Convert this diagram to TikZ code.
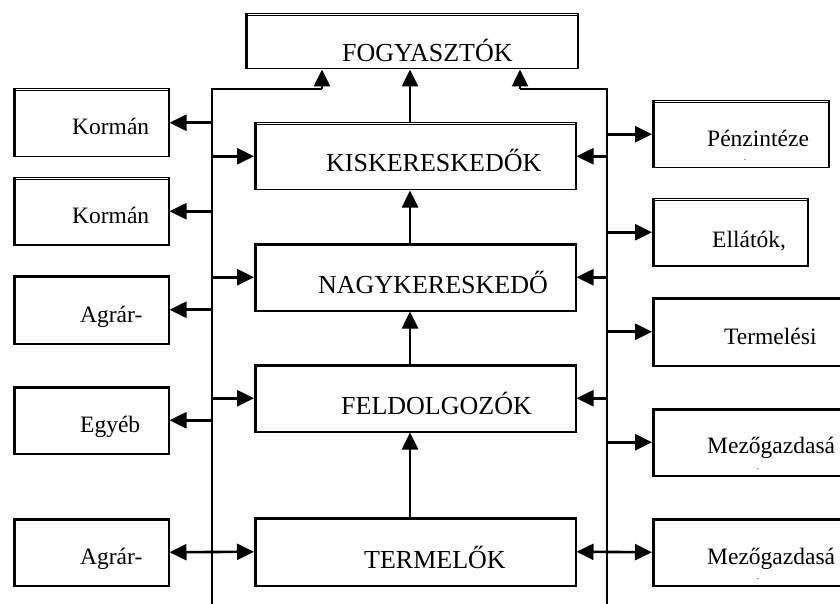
\documentclass[tikz,border=0pt]{standalone}
\usepackage{fontspec}
\setmainfont{Liberation Serif}
\usetikzlibrary{arrows.meta,calc}
\begin{document}
\begin{tikzpicture}[x=1pt,y=-1pt,
  box/.style={draw, line width=1.5pt, inner sep=0pt, anchor=north west},
  clab/.style={anchor=base west, inner sep=0pt, font=\fontsize{26}{30}\selectfont},
  slab/.style={anchor=base west, inner sep=0pt, font=\fontsize{23.5}{28}\selectfont},
  dotlab/.style={anchor=base, inner sep=0pt, font=\fontsize{9}{10}\selectfont},
  bus/.style={line width=2.8pt},
  tip/.style={-{Triangle[length=17pt,width=16pt]}},
  arr/.style={line width=2.6pt, tip},
  arrtwo/.style={line width=2.6pt, {Triangle[length=17pt,width=16pt]}-{Triangle[length=17pt,width=16pt]}}
]
\useasboundingbox (0,0) rectangle (840,604);
\clip (0,0) rectangle (840,604);

% boxes
\node[box, minimum width=332pt, minimum height=55pt] (fogy) at (245,13) {};
\node[box, minimum width=321pt, minimum height=67pt] (kisk) at (254,122) {};
\node[box, minimum width=321pt, minimum height=67pt] (nagy) at (254,243) {};
\node[box, minimum width=321pt, minimum height=67pt] (feld) at (254,364) {};
\node[box, minimum width=321pt, minimum height=68pt] (term) at (254,517) {};
\node[box, minimum width=155pt, minimum height=68pt] (korm1) at (13,88) {};
\node[box, minimum width=155pt, minimum height=67pt] (korm2) at (13,177) {};
\node[box, minimum width=155pt, minimum height=68pt] (agrar1) at (13,275) {};
\node[box, minimum width=155pt, minimum height=67pt] (egyeb) at (13,386) {};
\node[box, minimum width=155pt, minimum height=67pt] (agrar2) at (13,518) {};
\node[box, minimum width=176pt, minimum height=67pt] (penz) at (652,100) {};
\node[box, minimum width=155pt, minimum height=67pt] (ellat) at (652,198) {};
\node[box, minimum width=200pt, minimum height=68pt] (termel) at (652,297) {};
\node[box, minimum width=200pt, minimum height=67pt] (mezo1) at (652,408) {};
\node[box, minimum width=200pt, minimum height=67pt] (mezo2) at (652,518) {};

% doubled left and top edges
\foreach \n in {fogy,kisk,nagy,feld,term,korm1,korm2,agrar1,egyeb,agrar2,penz,ellat,termel,mezo1,mezo2}{
  \draw[line width=0.9pt] ([xshift=2.4pt,yshift=-1pt]\n.north west) -- ([xshift=2.4pt]\n.south west);
  \draw[line width=0.9pt] ([xshift=1pt,yshift=-2pt]\n.north west) -- ([yshift=-2pt]\n.north east);
}

% labels
\node[clab] (tfogy) at (342,62) {FOGYASZTÓK};
\node[clab] (tkisk) at (326,172) {KISKERESKEDŐK};
\node[clab] (tnagy) at (318,293) {NAGYKERESKEDŐ};
\node[clab] (tfeld) at (341,414) {FELDOLGOZÓK};
\node[clab] (tterm) at (364,568) {TERMELŐK};
\node[slab] (tkorm1) at (72,135) {Kormán};
\node[slab] (tkorm2) at (72,223) {Kormán};
\node[slab] (tagrar1) at (80,322) {Agrár-};
\node[slab] (tegyeb) at (80,432) {Egyéb};
\node[slab] (tagrar2) at (80,564) {Agrár-};
\node[slab] (tpenz) at (707,147) {Pénzintéze};
\node[slab] (tellat) at (712,247) {Ellátók,};
\node[slab] (ttermel) at (724,344) {Termelési};
\node[slab] (tmezo1) at (707,453) {Mezőgazdasá};
\node[slab] (tmezo2) at (707,564) {Mezőgazdasá};
\node[dotlab] (dpenz) at (745,161) {.};
\node[dotlab] (dmezo1) at (758,469) {.};
\node[dotlab] (dmezo2) at (758,579) {.};

% buses
\coordinate (lbt) at (212,89);
\coordinate (lbb) at (212,604);
\coordinate (rbt) at (607,89);
\coordinate (rbb) at (607,604);
\coordinate (cx) at (410,0);
\draw[bus] (lbb) -- (lbt) -- (322,89);
\draw[bus] (rbb) -- (rbt) -- (520,89);
\draw[arr] (322,89) -- ($(fogy.south west)+(77,0)$);
\draw[arr] (520,89) -- ($(fogy.south west)+(275,0)$);

% vertical chain
\draw[arr] (cx |- kisk.north) -- (cx |- fogy.south);
\draw[arr] (cx |- nagy.north) -- (cx |- kisk.south);
\draw[arr] (cx |- feld.north) -- (cx |- nagy.south);
\draw[arr] (cx |- term.north) -- (cx |- feld.south);

% left bus to left boxes
\foreach \n in {korm1,korm2,agrar1,egyeb}{
  \draw[arr] (lbt |- \n.east) -- (\n.east);
}
% left bus to centre boxes
\foreach \n in {kisk,nagy,feld}{
  \draw[arr] (lbt |- \n.west) -- (\n.west);
}
% right bus to right boxes
\foreach \n in {penz,ellat,termel,mezo1}{
  \draw[arr] (rbt |- \n.west) -- (\n.west);
}
% right bus to centre boxes
\foreach \n in {kisk,nagy,feld}{
  \draw[arr] (rbt |- \n.east) -- (\n.east);
}
% two-way links
\draw[arrtwo] (agrar2.east) -- (term.west);
\draw[arrtwo] (term.east) -- (mezo2.west);
\end{tikzpicture}
\end{document}
